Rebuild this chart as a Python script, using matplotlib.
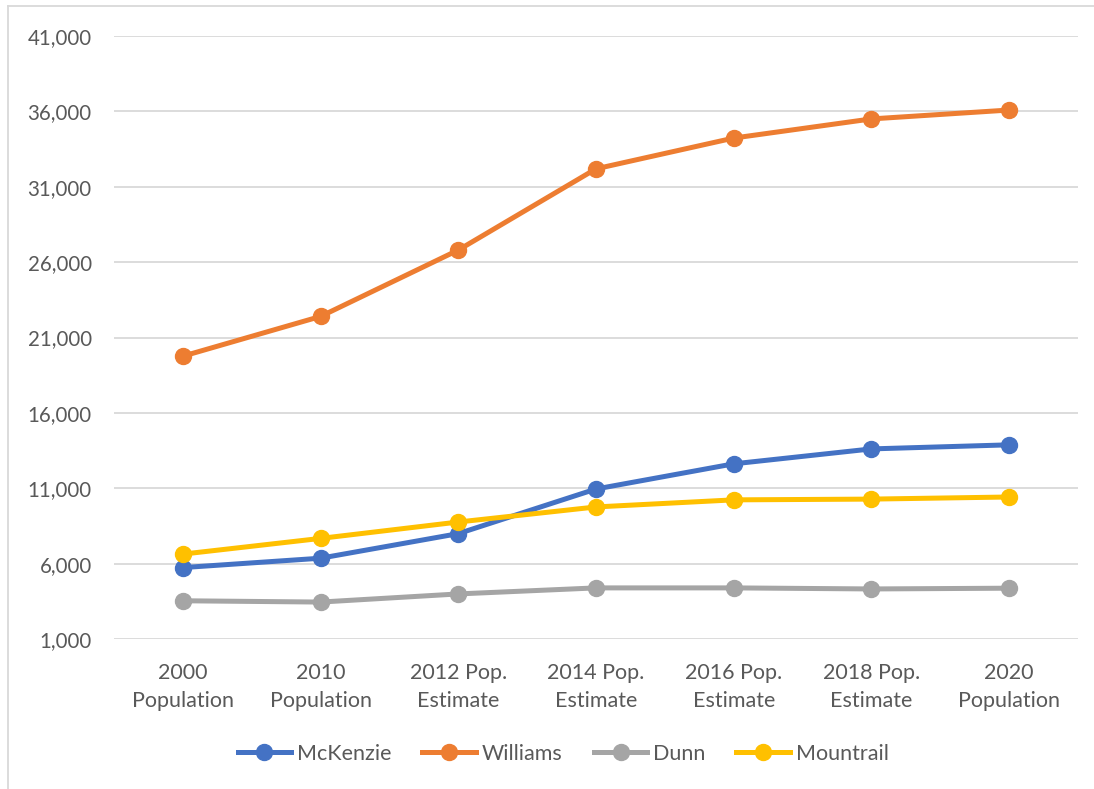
import matplotlib.pyplot as plt
from matplotlib.lines import Line2D
from matplotlib.ticker import FuncFormatter

plt.rcParams['font.family'] = ['Lato', 'DejaVu Sans']

categories = ["2000\nPopulation", "2010\nPopulation", "2012 Pop.\nEstimate", "2014 Pop.\nEstimate",
              "2016 Pop.\nEstimate", "2018 Pop.\nEstimate", "2020\nPopulation"]
mckenzie = [5737, 6360, 7990, 10950, 12620, 13610, 13880]
williams = [19761, 22398, 26800, 32190, 34230, 35500, 36090]
dunn = [3536, 3450, 3990, 4390, 4390, 4320, 4370]
mountrail = [6631, 7673, 8760, 9760, 10230, 10280, 10420]

series = [("McKenzie", mckenzie, "#4472C4"),
          ("Williams", williams, "#ED7D31"),
          ("Dunn", dunn, "#A5A5A5"),
          ("Mountrail", mountrail, "#FFC000")]

fig = plt.figure(figsize=(10.94, 7.89), dpi=100)
ax = fig.add_axes([114 / 1094, 1 - 639 / 789, (1078 - 114) / 1094, (639 - 36) / 789])

x = list(range(len(categories)))
for name, vals, col in series:
    ax.plot(x, vals, color=col, lw=3.6, marker='o', ms=11.5, label=name, solid_capstyle='round')

ax.set_xlim(-0.5, 6.5)
ax.set_ylim(1000, 41000)
ax.set_yticks(range(1000, 41001, 5000))
ax.yaxis.set_major_formatter(FuncFormatter(lambda v, p: f"{int(v):,}"))
ax.set_xticks(x)
ax.set_xticklabels(categories, linespacing=1.5, fontsize=15.5)
ax.grid(axis='y', color='#D9D9D9', lw=1.3)
ax.set_axisbelow(True)
for s in ax.spines.values():
    s.set_visible(False)
ax.tick_params(axis='both', length=0, colors='#595959')
ax.tick_params(axis='y', labelsize=14.8, pad=16)
ax.tick_params(axis='x', pad=17)

handles = [Line2D([0], [0], color=c, lw=3.6, marker='o', ms=11.5) for _, _, c in series]
fig.legend(handles, [n for n, _, _ in series], loc='center', bbox_to_anchor=(563 / 1094, 1 - 754 / 789),
           ncol=4, frameon=False, fontsize=15.5, labelcolor='#595959', handlelength=2.5,
           handletextpad=0.25, columnspacing=1.45)

# chart-area border (top and left edges are visible)
fig.add_artist(Line2D([8 / 1094, 1], [1 - 6 / 789, 1 - 6 / 789], color='#D9D9D9', lw=1.3))
fig.add_artist(Line2D([8 / 1094, 8 / 1094], [0, 1 - 6 / 789], color='#D9D9D9', lw=1.3))

fig.savefig("out.png", dpi=100)
